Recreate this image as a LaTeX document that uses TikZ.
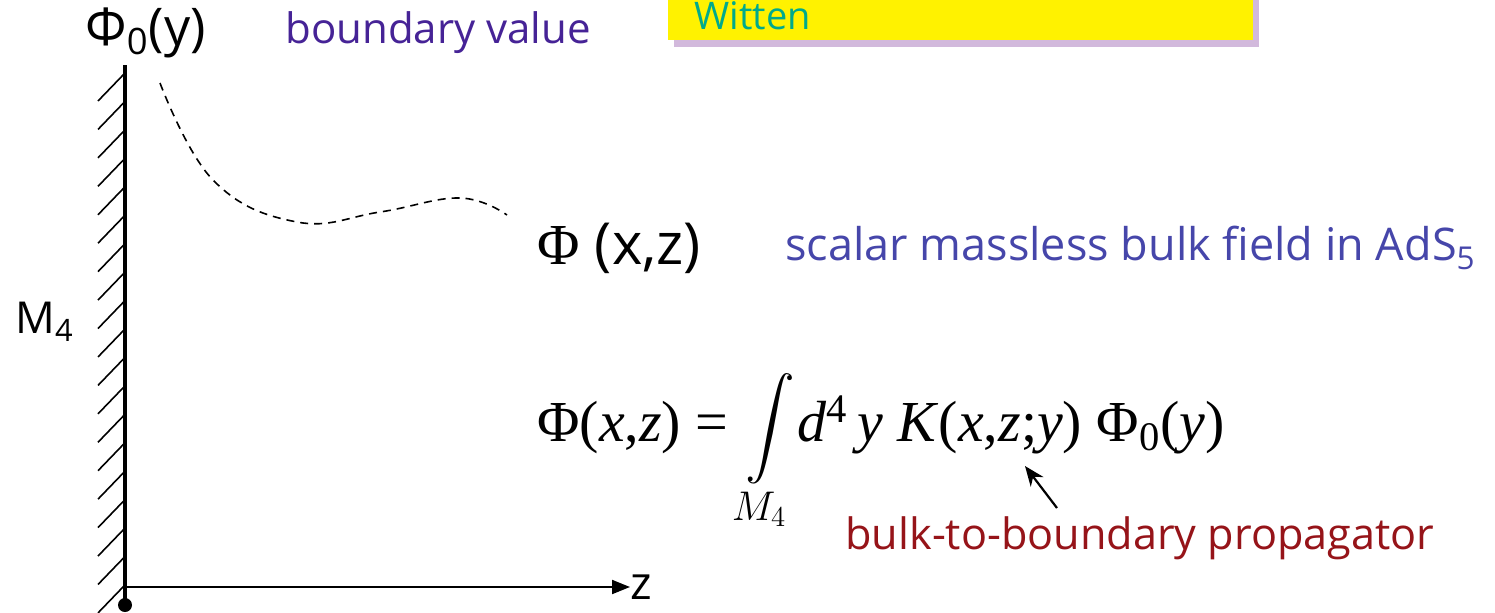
\documentclass[tikz,border=0pt]{standalone}
\usepackage{amsmath}
\usepackage{fontspec}
\setmainfont{Liberation Serif}
\newfontfamily\comic{Open Sans}
\usetikzlibrary{arrows.meta, positioning}
\usepackage{xcolor}
\definecolor{bvpurple}{RGB}{70,35,150}
\definecolor{bulkblue}{RGB}{70,70,170}
\definecolor{propred}{RGB}{150,20,25}
\definecolor{wittenteal}{RGB}{0,170,140}
\definecolor{shadowlav}{RGB}{210,185,220}

\begin{document}
\begin{tikzpicture}[x=0.5pt, y=-0.5pt,
  lbl/.style={font=\comic\fontsize{21}{25}\selectfont, inner sep=0pt, anchor=west},
  hatch/.style={line width=0.8pt},
  wall/.style={line width=2pt},
  axis/.style={line width=1pt, -{Triangle[length=9pt, width=7pt]}},
  guess/.style={line width=0.8pt, dash pattern=on 4pt off 3pt},
  parrow/.style={line width=1.1pt, -{Stealth[length=10pt, width=8pt]}}
]
  \useasboundingbox (0,0) rectangle (1495,612);

  % title box, cut at the top
  \fill[shadowlav] (674,-20) rectangle (1259,47);
  \fill[yellow] (668,-20) rectangle (1253,40);
  \node[lbl, anchor=base west, font=\comic\fontsize{19}{23}\selectfont, text=wittenteal] (witten) at (694,29) {Witten};

  % boundary M4 with hatching
  \foreach \y in {73,101.44,...,590}
    \draw[hatch] (125,\y) -- ++(-27,28);
  \draw[wall] (125,65) -- (125,605);
  \fill (125,605) circle (3.5pt);
  \node[lbl, font=\comic\fontsize{22}{26}\selectfont] (M4) at (15,322) {M\textsubscript{4}};

  % z axis
  \coordinate (O) at (125,587);
  \node[lbl, anchor=base west, font=\comic\fontsize{23}{27}\selectfont] (zlab) at (630,599) {z};
  \draw[axis] (O) -- (O -| zlab.west);

  % boundary value
  \node[lbl, font=\comic\fontsize{26}{30}\selectfont] (phi0) at (85,33) {Φ\textsubscript{0}(y)};
  \node[lbl, text=bvpurple] (bval) at (285,33) {boundary value};
  \draw[guess] plot[smooth, tension=0.7] coordinates
    {(160,83) (213,180) (297,222) (380,212) (460,198) (507,215)};

  % bulk field
  \node[lbl, font=\comic\fontsize{29}{33}\selectfont] (phixz) at (537,248) {{\rmfamily Φ} (x,z)};
  \node[lbl, font=\comic\fontsize{22.5}{27}\selectfont, text=bulkblue] (bulk) at (785,248)
    {scalar massless bulk field in AdS\textsubscript{5}};

  % solution in terms of the propagator
  \node[inner sep=0pt, anchor=base west, font=\fontsize{29}{34}\selectfont] (sol) at (537,441)
    {Φ(\textit{x},\textit{z}) = $\displaystyle\int\limits_{M_4}$\textit{d}\textsuperscript{4}\,\textit{y} \textit{K}(\textit{x},\textit{z};\textit{y}) Φ\textsubscript{0}(\textit{y})};
  \node[lbl, font=\comic\fontsize{21.6}{26}\selectfont, text=propred] (prop) at (845,538) {bulk-to-boundary propagator};
  \coordinate (ptail) at (1057,508);
  \coordinate (ptip) at (1025,466);
  \draw[parrow] (ptail) -- (ptip);
\end{tikzpicture}
\end{document}
